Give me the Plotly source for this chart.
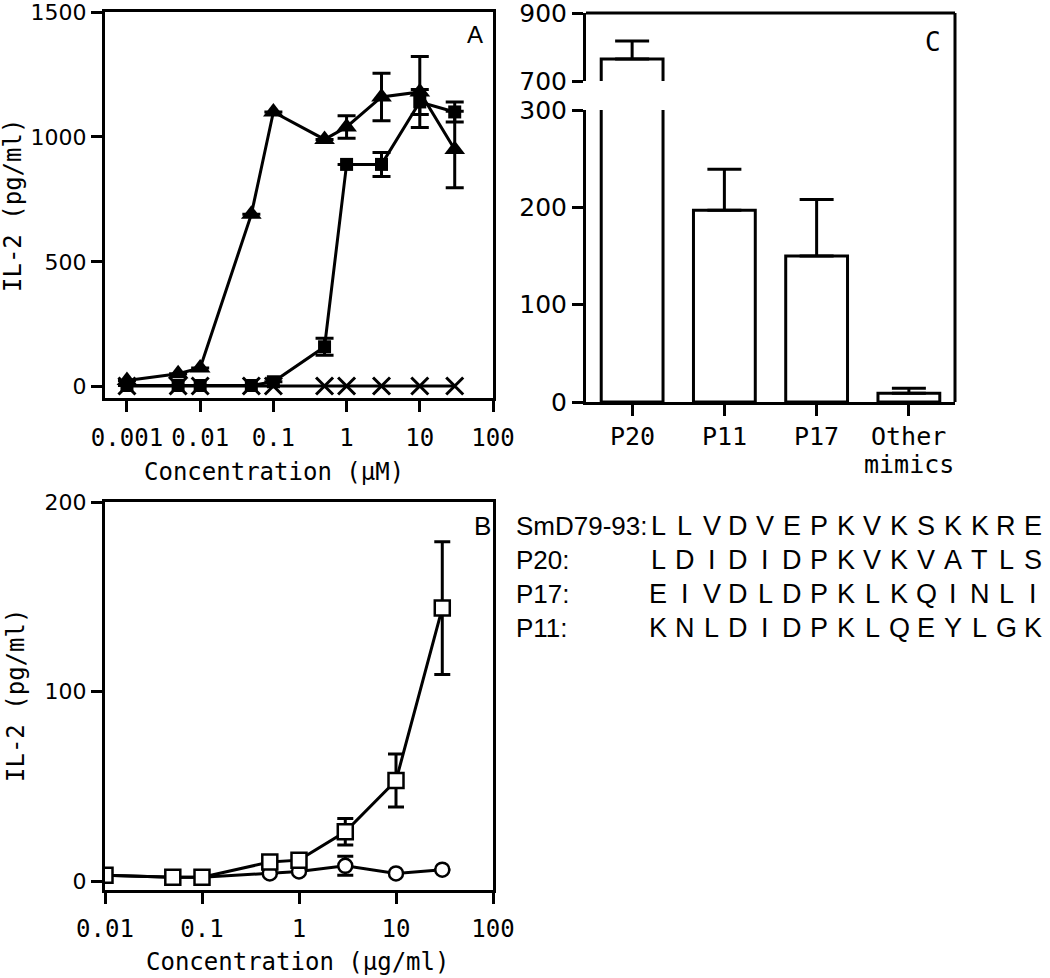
import plotly.graph_objects as go

W, H = 1050, 978


def px(x):
    return x / W


def py(y):
    return 1 - y / H


# ---------------- data ----------------
# Panel A (concentration in uM)
conc_A = [0.001, 0.005, 0.01, 0.05, 0.1, 0.5, 1, 3, 10, 30]
tri_A = [25, 52, 75, 690, 1100, 990, 1040, 1160, 1180, 950]
tri_A_err = [None, None, None, None, None, None, 45, 95, 142, 153]
sq_A = [5, 5, 5, 5, 20, 160, 890, 890, 1140, 1100]
sq_A_err = [None, None, None, None, None, 34, None, 48, 50, 40]
cross_A = [3, 3, 3, 3, 3, 3, 3, 3, 3, 3]
ticks_A_x = [0.001, 0.01, 0.1, 1, 10, 100]
ticklabels_A_x = ["0.001", "0.01", "0.1", "1", "10", "100"]
ticks_A_y = [0, 500, 1000, 1500]

# Panel B (concentration in ug/ml)
conc_B = [0.01, 0.05, 0.1, 0.5, 1, 3, 10, 30]
sq_B = [3, 2, 2, 10, 11, 26, 53, 144]
sq_B_err = [None, None, None, None, None, 7, 14, 35]
circ_B = [3, 2, 2, 4, 5, 8, 4, 6]
circ_B_err = [None, None, None, None, None, 5, None, None]
ticks_B_x = [0.01, 0.1, 1, 10, 100]
ticklabels_B_x = ["0.01", "0.1", "1", "10", "100"]
ticks_B_y = [0, 100, 200]

# Panel C
cats_C = ["P20", "P11", "P17", "Other mimics"]
cat_lines_C = [["P20"], ["P11"], ["P17"], ["Other", "mimics"]]
mean_C = [765, 197, 150, 9]
err_C = [53, 42, 58, 5]
ticks_C_low = [0, 100, 200, 300]
ticks_C_high = [700, 900]

# Sequences
seq_names = ["SmD79-93:", "P20:", "P17:", "P11:"]
seqs = ["LLVDVEPKVKSKKRE", "LDIDIDPKVKVATLS", "EIVDLDPKLKQINLI", "KNLDIDPKLQEYLGK"]

# ---------------- styles ----------------
BLACK = "black"
mono = "DejaVu Sans Mono"
sans = "DejaVu Sans"

fig = go.Figure()

err_style = dict(type="data", color=BLACK, thickness=3, width=9, visible=True)

# Panel A traces
fig.add_trace(go.Scatter(
    x=conc_A, y=cross_A, mode="lines+markers",
    line=dict(color=BLACK, width=3),
    marker=dict(symbol="x-thin-open", size=17, color=BLACK, line=dict(color=BLACK, width=3)),
    xaxis="x", yaxis="y"))
fig.add_trace(go.Scatter(
    x=conc_A, y=sq_A, mode="lines+markers",
    line=dict(color=BLACK, width=3),
    marker=dict(symbol="square", size=13, color=BLACK),
    error_y=dict(array=sq_A_err, **err_style),
    xaxis="x", yaxis="y"))
fig.add_trace(go.Scatter(
    x=conc_A, y=tri_A, mode="lines+markers",
    line=dict(color=BLACK, width=3),
    marker=dict(symbol="triangle-up", size=18, color=BLACK),
    error_y=dict(array=tri_A_err, **err_style),
    xaxis="x", yaxis="y"))

# Panel B traces
fig.add_trace(go.Scatter(
    x=conc_B, y=circ_B, mode="lines+markers",
    line=dict(color=BLACK, width=3),
    marker=dict(symbol="circle", size=14, color="white", line=dict(color=BLACK, width=2.5)),
    error_y=dict(array=circ_B_err, type="data", color=BLACK, thickness=3, width=8),
    xaxis="x2", yaxis="y2"))
fig.add_trace(go.Scatter(
    x=conc_B, y=sq_B, mode="lines+markers",
    line=dict(color=BLACK, width=3),
    marker=dict(symbol="square", size=15, color="white", line=dict(color=BLACK, width=2.5)),
    error_y=dict(array=sq_B_err, type="data", color=BLACK, thickness=3, width=8),
    xaxis="x2", yaxis="y2"))

# Panel C traces (broken axis: lower and upper segments)
err_low = [None] + err_C[1:]
fig.add_trace(go.Bar(
    x=cats_C, y=mean_C, width=0.67,
    marker=dict(color="white", line=dict(color=BLACK, width=3)),
    error_y=dict(type="data", symmetric=False, array=err_low, arrayminus=[0, 0, 0, 0],
                 color=BLACK, thickness=3, width=17),
    xaxis="x3", yaxis="y3"))
fig.add_trace(go.Bar(
    x=cats_C[:1], y=mean_C[:1], width=0.67,
    marker=dict(color="white", line=dict(color=BLACK, width=3)),
    error_y=dict(type="data", symmetric=False, array=err_C[:1], arrayminus=[0],
                 color=BLACK, thickness=3, width=17),
    xaxis="x3", yaxis="y4"))

axis_common = dict(showline=True, linecolor=BLACK, linewidth=3, ticks="outside",
                   ticklen=11, tickwidth=3, tickcolor=BLACK, showgrid=False,
                   zeroline=False, automargin=False, ticklabeloverflow="allow")

C_X0, C_X1 = 586, 955

fig.update_layout(
    width=W, height=H,
    margin=dict(l=0, r=0, t=0, b=0, autoexpand=False),
    paper_bgcolor="white", plot_bgcolor="white",
    showlegend=False,
    xaxis=dict(**axis_common, type="log", range=[-3.30, 2], domain=[px(105), px(493)],
               anchor="y", mirror=True, tickvals=ticks_A_x, ticktext=ticklabels_A_x,
               tickfont=dict(family=mono, size=24, color=BLACK), ticklabelstandoff=5),
    yaxis=dict(**axis_common, range=[-45, 1500], domain=[py(398), py(12)],
               anchor="x", mirror=True, tickvals=ticks_A_y,
               tickfont=dict(family=sans, size=22, color=BLACK)),
    xaxis2=dict(**axis_common, type="log", range=[-2, 2], domain=[px(105), px(493)],
                anchor="y2", mirror=True, tickvals=ticks_B_x, ticktext=ticklabels_B_x,
                tickfont=dict(family=mono, size=24, color=BLACK), ticklabelstandoff=4),
    yaxis2=dict(**axis_common, range=[-4.75, 200], domain=[py(890), py(502)],
                anchor="x2", mirror=True, tickvals=ticks_B_y,
                tickfont=dict(family=sans, size=22, color=BLACK)),
    xaxis3=dict(**axis_common, type="category", range=[-0.5, 3.5],
                domain=[px(C_X0), px(C_X1)], anchor="y3", showticklabels=False),
    yaxis3=dict(**axis_common, range=[0, 300], domain=[py(402), py(110)],
                anchor="x3", tickvals=ticks_C_low,
                tickfont=dict(family=sans, size=25, color=BLACK)),
    yaxis4=dict(**axis_common, range=[700, 900], domain=[py(81), py(13)],
                anchor="x3", tickvals=ticks_C_high,
                tickfont=dict(family=sans, size=25, color=BLACK)),
)

# Frame of panel C (top and right sides)
fig.add_shape(type="line", xref="paper", yref="paper",
              x0=px(C_X0), x1=px(C_X1), y0=py(13), y1=py(13),
              line=dict(color=BLACK, width=3))
fig.add_shape(type="line", xref="paper", yref="paper",
              x0=px(C_X1), x1=px(C_X1), y0=py(13), y1=py(402),
              line=dict(color=BLACK, width=3))

ann = []


def add_text(text, x, y, size, family, xanchor="center", yanchor="middle", angle=0,
             xref="paper"):
    ann.append(dict(text=text, x=px(x) if xref == "paper" else x, y=py(y),
                    xref=xref, yref="paper",
                    showarrow=False, xanchor=xanchor, yanchor=yanchor, textangle=angle,
                    font=dict(family=family, size=size, color=BLACK)))


# Category labels of panel C (placed on the category axis)
for cat, lines in zip(cats_C, cat_lines_C):
    for i, line in enumerate(lines):
        add_text(line, cat, 436 + i * 28, 25, mono, xref="x3")

# Panel letters
add_text("A", 475, 35, 24, "Liberation Sans")
add_text("B", 482, 526, 26, "Liberation Sans")
add_text("C", 933, 42, 26, mono)

# Axis titles
add_text("Concentration (\u03bcM)", 274, 472, 24, mono)
add_text("Concentration (\u03bcg/ml)", 297, 962, 24, mono)
add_text("IL-2 (pg/ml)", 13, 206, 24, mono, angle=-90)
add_text("IL-2 (pg/ml)", 16, 696, 24, mono, angle=-90)

# Sequence alignment block
row_y = [526, 560, 594, 628]
col0, dcol = 658, 26.8
for r, (name, seq) in enumerate(zip(seq_names, seqs)):
    add_text(name, 514, row_y[r], 26, "Liberation Sans", xanchor="left")
    for k, ch in enumerate(seq):
        add_text(ch, col0 + k * dcol, row_y[r], 27, "Liberation Sans")

fig.update_layout(annotations=ann)

fig.write_html(
    "out.html",
    config={"displayModeBar": False},
    post_script="document.body.style.margin='0';document.body.style.padding='0';"
                "document.body.style.overflow='hidden';",
)
